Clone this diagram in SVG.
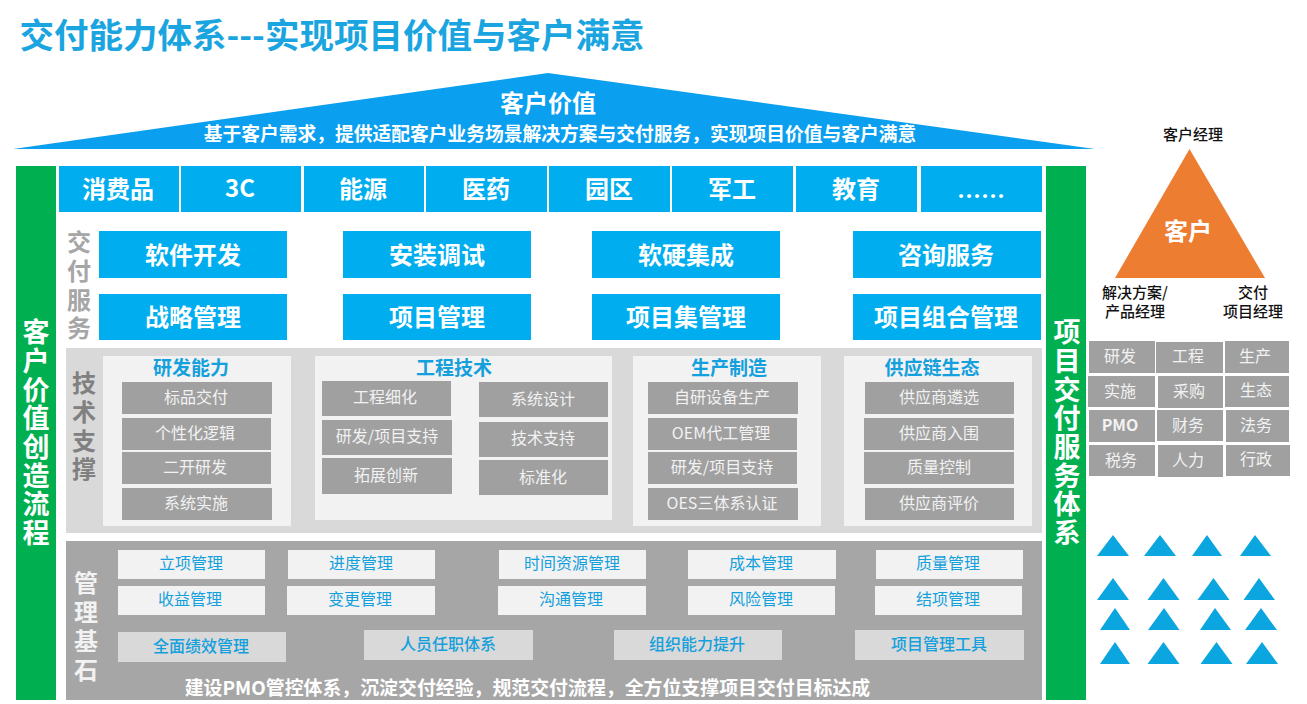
<svg xmlns="http://www.w3.org/2000/svg" width="1307" height="704" viewBox="0 0 1307 704">
<style>
text{font-family:"Noto Sans CJK SC","Liberation Sans",sans-serif;text-anchor:middle;dominant-baseline:central}
text:not(.v){transform:translateY(-1.5px)}
.v{writing-mode:vertical-rl;text-anchor:start;font-weight:700}
.b{font-weight:700}
.blue{fill:#00aeef}.green{fill:#00b050}.g{fill:#a0a0a0}.pale{fill:#f2f2f2}.mid{fill:#d9d9d9}.tri{fill:#0ba5e0}
.ind{font-size:24px;font-weight:700;fill:#fff}
.svc{font-size:24px;font-weight:700;fill:#fff}
.side{font-size:27px;letter-spacing:1.7px;fill:#fff}
.lab{font-size:16px;fill:#f2f2f2}
.head{font-size:19px;font-weight:700;fill:#14a0dc}
.mg{font-size:16px;fill:#14a0dc}
.mgb{font-size:16px;font-weight:500;fill:#14a0dc}
.dk{font-size:15px;font-weight:500;fill:#111}
</style>
<rect width="1307" height="704" fill="#fff"/>
<text id="title" class="b" x="332" y="34" font-size="34.500" fill="#1aa5e0">交付能力体系---实现项目价值与客户满意</text>
<g id="roof">
<polygon points="548,73 1095,149 13,149" fill="#0b9ff0"/>
<text class="b" x="548" y="103" font-size="24" fill="#fff">客户价值</text>
<text class="b" x="560" y="134" font-size="18.750" fill="#fff">基于客户需求，提供适配客户业务场景解决方案与交付服务，实现项目价值与客户满意</text>
</g>
<g id="left-bar">
<rect class="green" x="16" y="166" width="40" height="534"/>
<text class="v side" x="36" y="318.500">客户价值创造流程</text>
</g>
<g id="right-bar">
<rect class="green" x="1046" y="166" width="40" height="534"/>
<text class="v side" x="1067" y="318.500">项目交付服务体系</text>
</g>
<g id="industries">
<rect class="blue" x="59" y="166" width="120" height="46"/><text class="ind" x="118" y="189">消费品</text>
<rect class="blue" x="181" y="166" width="120" height="46"/><text class="ind" x="240" y="188">3C</text>
<rect class="blue" x="304" y="166" width="120" height="46"/><text class="ind" x="363" y="189">能源</text>
<rect class="blue" x="426" y="166" width="121" height="46"/><text class="ind" x="486" y="189">医药</text>
<rect class="blue" x="549" y="166" width="121" height="46"/><text class="ind" x="609" y="189">园区</text>
<rect class="blue" x="672" y="166" width="121" height="46"/><text class="ind" x="732" y="189">军工</text>
<rect class="blue" x="796" y="166" width="121" height="46"/><text class="ind" x="856" y="189">教育</text>
<rect class="blue" x="921" y="166" width="121" height="46"/><text class="ind" x="981" y="196">……</text>
</g>
<g id="delivery-services">
<text class="v" font-size="24" letter-spacing="4.700" fill="#a6a6a6" x="79" y="230">交付服务</text>
<rect class="blue" x="99" y="231" width="188" height="47"/><text class="svc" x="193" y="255">软件开发</text>
<rect class="blue" x="343" y="231" width="188" height="47"/><text class="svc" x="437" y="255">安装调试</text>
<rect class="blue" x="592" y="231" width="188" height="47"/><text class="svc" x="686" y="255">软硬集成</text>
<rect class="blue" x="853" y="231" width="188" height="47"/><text class="svc" x="946" y="255">咨询服务</text>
<rect class="blue" x="99" y="294" width="188" height="46"/><text class="svc" x="193" y="317">战略管理</text>
<rect class="blue" x="343" y="294" width="188" height="46"/><text class="svc" x="437" y="317">项目管理</text>
<rect class="blue" x="592" y="294" width="188" height="46"/><text class="svc" x="686" y="317">项目集管理</text>
<rect class="blue" x="853" y="294" width="188" height="46"/><text class="svc" x="946" y="317">项目组合管理</text>
</g>
<g id="tech-support">
<rect class="mid" x="66" y="348" width="976" height="185"/>
<text class="v" font-size="24" letter-spacing="4.700" fill="#808080" x="84" y="371">技术支撑</text>
<rect class="pale" x="103" y="356" width="188" height="170"/>
<rect class="pale" x="315" y="356" width="297" height="164"/>
<rect class="pale" x="633" y="356" width="188" height="170"/>
<rect class="pale" x="844" y="356" width="188" height="170"/>
<text class="head" x="191" y="368">研发能力</text>
<text class="head" x="454" y="368">工程技术</text>
<text class="head" x="729" y="368">生产制造</text>
<text class="head" x="932" y="368">供应链生态</text>
<g class="g">
<rect x="122" y="382" width="150" height="32"/><rect x="122" y="418" width="149" height="32"/><rect x="122" y="452" width="149" height="32"/><rect x="122" y="488" width="150" height="32"/>
<rect x="322" y="381" width="129" height="35"/><rect x="322" y="420" width="130" height="35"/><rect x="322" y="458" width="130" height="36"/>
<rect x="479" y="382" width="129" height="35"/><rect x="479" y="422" width="129" height="35"/><rect x="479" y="460" width="129" height="35"/>
<rect x="648" y="382" width="150" height="32"/><rect x="648" y="418" width="149" height="32"/><rect x="648" y="452" width="149" height="32"/><rect x="648" y="488" width="150" height="32"/>
<rect x="865" y="382" width="149" height="32"/><rect x="864" y="418" width="150" height="32"/><rect x="864" y="452" width="150" height="32"/><rect x="865" y="488" width="149" height="32"/>
</g>
<text class="lab" x="196" y="397">标品交付</text><text class="lab" x="195" y="433">个性化逻辑</text><text class="lab" x="195" y="467">二开研发</text><text class="lab" x="196" y="503">系统实施</text>
<text class="lab" x="385" y="397">工程细化</text><text class="lab" x="387" y="436">研发/项目支持</text><text class="lab" x="386" y="475">拓展创新</text>
<text class="lab" x="543" y="399">系统设计</text><text class="lab" x="543" y="438">技术支持</text><text class="lab" x="543" y="477">标准化</text>
<text class="lab" x="722" y="397">自研设备生产</text><text class="lab" x="721" y="433">OEM代工管理</text><text class="lab" x="722" y="467">研发/项目支持</text><text class="lab" x="722" y="503">OES三体系认证</text>
<text class="lab" x="939" y="397">供应商遴选</text><text class="lab" x="939" y="433">供应商入围</text><text class="lab" x="939" y="467">质量控制</text><text class="lab" x="939" y="503">供应商评价</text>
</g>
<g id="management">
<rect x="66" y="541" width="976" height="159" fill="#a6a6a6"/>
<text class="v" font-size="24" letter-spacing="5" fill="#f2f2f2" x="86" y="571">管理基石</text>
<g class="pale">
<rect x="118" y="550" width="147" height="29"/><rect x="288" y="550" width="147" height="29"/><rect x="499" y="550" width="147" height="29"/><rect x="688" y="550" width="148" height="29"/><rect x="876" y="550" width="147" height="29"/>
<rect x="118" y="586" width="147" height="29"/><rect x="287" y="586" width="148" height="29"/><rect x="498" y="586" width="148" height="29"/><rect x="688" y="586" width="147" height="29"/><rect x="875" y="586" width="147" height="29"/>
</g>
<g class="mid">
<rect x="118" y="632" width="168" height="30"/><rect x="364" y="630" width="169" height="30"/><rect x="614" y="630" width="168" height="30"/><rect x="855" y="630" width="169" height="30"/>
</g>
<text class="mg" x="191" y="563">立项管理</text><text class="mg" x="361" y="563">进度管理</text><text class="mg" x="572" y="563">时间资源管理</text><text class="mg" x="761" y="563">成本管理</text><text class="mg" x="948" y="563">质量管理</text>
<text class="mg" x="190" y="599">收益管理</text><text class="mg" x="360" y="599">变更管理</text><text class="mg" x="571" y="599">沟通管理</text><text class="mg" x="761" y="599">风险管理</text><text class="mg" x="948" y="599">结项管理</text>
<text class="mgb" x="201" y="646">全面绩效管理</text><text class="mgb" x="448" y="644">人员任职体系</text><text class="mgb" x="697" y="644">组织能力提升</text><text class="mgb" x="939" y="644">项目管理工具</text>
<text class="b" x="527.500" y="688" font-size="18.900" fill="#fff">建设PMO管控体系，沉淀交付经验，规范交付流程，全方位支撑项目交付目标达成</text>
</g>
<g id="customer-triangle">
<polygon points="1189.500,149 1265,278 1115,278" fill="#ed7d31"/>
<text class="b" x="1188" y="231" font-size="24" fill="#fff">客户</text>
<text class="dk" x="1193" y="135">客户经理</text>
<text class="dk" x="1135" y="293">解决方案/</text><text class="dk" x="1135" y="312">产品经理</text>
<text class="dk" x="1253" y="293">交付</text><text class="dk" x="1253" y="312">项目经理</text>
</g>
<g id="function-grid">
<g class="g">
<rect x="1089" y="341" width="66" height="32"/><rect x="1156" y="342" width="67" height="31"/><rect x="1225" y="341" width="64" height="32"/>
<rect x="1088" y="376" width="67" height="31"/><rect x="1158" y="376" width="65" height="32"/><rect x="1225" y="376" width="64" height="31"/>
<rect x="1089" y="410" width="66" height="32"/><rect x="1157" y="410" width="66" height="31"/><rect x="1226" y="410" width="63" height="32"/>
<rect x="1089" y="445" width="66" height="31"/><rect x="1158" y="445" width="65" height="32"/><rect x="1226" y="445" width="64" height="31"/>
</g>
<text class="lab" x="1120" y="356">研发</text><text class="lab" x="1188" y="356">工程</text><text class="lab" x="1255" y="356">生产</text>
<text class="lab" x="1120" y="391">实施</text><text class="lab" x="1189" y="391">采购</text><text class="lab" x="1256" y="390">生态</text>
<text class="lab b" x="1120" y="425">PMO</text><text class="lab" x="1188" y="425">财务</text><text class="lab" x="1256" y="425">法务</text>
<text class="lab" x="1121" y="460">税务</text><text class="lab" x="1188" y="460">人力</text><text class="lab" x="1256" y="459">行政</text>
</g>
<g id="triangles" class="tri">
<polygon points="1113,535 1129,556 1097,556"/><polygon points="1160,535 1176,556 1144,556"/><polygon points="1207,535 1222,556 1192,556"/><polygon points="1255,535 1271,556 1240,556"/>
<polygon points="1113,578 1129,600 1097,600"/><polygon points="1163.500,578 1179.500,600 1147.500,600"/><polygon points="1213.500,578 1229.500,600 1197.500,600"/><polygon points="1259,578 1275,600 1243.500,600"/>
<polygon points="1115,608 1130,630 1100,630"/><polygon points="1164,608 1179.500,630 1148,630"/><polygon points="1215,608 1231,630 1200,630"/><polygon points="1261,608 1277,630 1245,630"/>
<polygon points="1115,642 1130,664 1100,664"/><polygon points="1163.500,642 1179.500,664 1147.500,664"/><polygon points="1216.500,642 1232.500,664 1200.500,664"/><polygon points="1262,642 1278,664 1246,664"/>
</g>
</svg>
